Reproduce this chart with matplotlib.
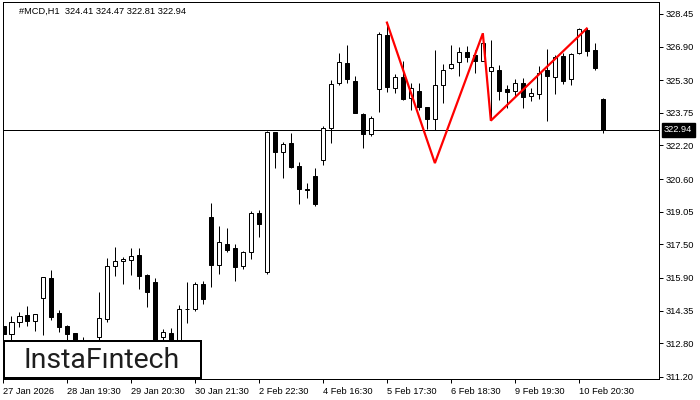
import matplotlib
matplotlib.use('Agg')
import matplotlib.pyplot as plt
import matplotlib.transforms as mtransforms
from matplotlib.patches import Rectangle


#################### Data

header_text = '#MCD,H1  324.41 324.47 322.81 322.94'
last_price = 322.94

opens = [313.61, 313.22, 313.79, 314.12, 313.84, 314.93, 315.88, 314.23, 313.61, 313.27,
         312.57, 312.85, 313.08, 313.93, 316.45, 316.69, 316.77, 316.99, 316.04, 315.69,
         313.11, 313.27, 312.66, 314.42, 314.41, 315.60, 318.78, 316.50, 317.50, 317.31,
         316.48, 317.12, 319.00, 316.20, 322.82, 321.87, 322.30, 321.22, 320.11, 320.75,
         321.51, 323.04, 325.15, 326.12, 325.26, 323.68, 322.73, 324.87, 327.45, 324.92,
         325.44, 324.44, 324.79, 324.01, 323.44, 325.06, 325.87, 326.15, 326.63, 326.50,
         326.23, 325.75, 325.79, 324.86, 324.79, 325.16, 324.57, 324.65, 325.79, 325.47,
         326.45, 325.35, 326.58, 327.69, 326.74, 324.41]
highs = [314.22, 314.09, 314.28, 314.57, 314.19, 315.95, 316.28, 314.38, 313.66, 313.29,
         313.11, 312.90, 315.23, 316.83, 317.37, 316.91, 317.31, 317.31, 316.09, 315.88,
         313.46, 313.52, 314.61, 315.71, 315.71, 315.75, 319.45, 318.37, 318.26, 317.51,
         317.18, 319.08, 319.13, 322.89, 322.85, 322.35, 322.78, 321.41, 320.40, 321.13,
         323.12, 325.31, 326.58, 326.98, 325.50, 323.73, 323.60, 327.58, 328.01, 325.58,
         326.22, 325.16, 325.16, 324.04, 326.74, 326.06, 326.98, 326.88, 326.91, 326.74,
         327.53, 327.21, 326.02, 325.05, 325.36, 325.39, 324.92, 325.98, 326.77, 326.50,
         326.58, 326.61, 327.77, 327.77, 327.06, 324.47]
lows = [313.03, 312.95, 313.58, 313.61, 313.39, 313.19, 313.90, 313.34, 312.95, 312.47,
        312.33, 312.30, 312.85, 313.82, 315.99, 315.61, 316.04, 315.37, 314.53, 312.75,
        312.90, 312.55, 312.50, 313.77, 314.34, 314.67, 315.48, 316.09, 317.15, 315.77,
        316.34, 316.80, 317.86, 316.10, 321.11, 320.67, 321.14, 319.40, 319.69, 319.32,
        321.27, 322.33, 325.07, 325.15, 323.74, 322.06, 322.66, 323.80, 324.76, 324.68,
        324.36, 323.89, 323.89, 322.97, 322.93, 324.23, 325.82, 325.50, 326.18, 325.63,
        326.20, 323.40, 324.35, 323.98, 324.52, 323.97, 324.33, 324.41, 323.38, 324.65,
        325.12, 325.07, 326.53, 326.47, 325.79, 322.81]
closes = [313.23, 313.79, 314.08, 313.84, 314.17, 315.93, 314.06, 313.58, 313.23, 312.71,
          312.95, 312.50, 313.98, 316.45, 316.69, 316.80, 316.93, 316.01, 315.25, 312.95,
          313.31, 312.71, 314.42, 314.44, 315.60, 314.91, 316.50, 317.59, 317.23, 316.43,
          317.12, 318.97, 318.45, 322.82, 321.87, 322.27, 321.19, 320.11, 320.09, 319.42,
          323.04, 325.12, 326.15, 325.37, 323.76, 322.73, 323.49, 327.48, 324.99, 325.44,
          324.41, 324.92, 324.01, 323.44, 325.06, 325.77, 326.06, 326.63, 326.42, 326.23,
          327.09, 325.91, 324.80, 324.72, 325.16, 324.52, 324.68, 325.63, 325.52, 326.42,
          325.28, 326.53, 327.72, 326.70, 325.87, 322.94]

time_tick_idx = [0, 8, 16, 24, 32, 40, 48, 56, 64, 72]
time_tick_labels = ['27 Jan 2026', '28 Jan 19:30', '29 Jan 20:30', '30 Jan 21:30',
                    '2 Feb 22:30', '4 Feb 16:30', '5 Feb 17:30', '6 Feb 18:30',
                    '9 Feb 19:30', '10 Feb 20:30']

price_ticks = [311.20, 312.80, 314.35, 315.90, 317.50, 319.05,
               320.60, 322.20, 323.75, 325.30, 326.90, 328.45]

# triple top drawing
pattern_idx = [48, 54, 60, 61, 73]
pattern_price = [328.04, 321.36, 327.53, 323.38, 327.76]


#################### Plot parameters

plt.rcParams['font.family'] = ['Liberation Sans', 'DejaVu Sans']
tick_size = 6.7
px = 0.72  # one pixel in points at dpi 100

W, H = 700, 400
fig = plt.figure(figsize=(W / 100, H / 100), dpi=100)
ax = fig.add_axes((3 / W, 21 / H, 656 / W, 377 / H))


#################### Candles

n = len(opens)
body_w = 0.55
for i in range(n):
    o, h, l, c = opens[i], highs[i], lows[i], closes[i]
    ax.vlines(i, l, h, color='black', linewidth=px, zorder=2)
    bull = c >= o
    ax.bar(i, max(abs(c - o), 0.005), bottom=min(o, c), width=body_w,
           facecolor='white' if bull else 'black', edgecolor='black',
           linewidth=px, zorder=3)

# pattern lines
ax.plot(pattern_idx, pattern_price, color='#ff0000', linewidth=1.6, zorder=4,
        solid_joinstyle='miter')

# current price line
ax.axhline(last_price, color='black', linewidth=px, zorder=1)


#################### Axes

ax.set_xlim(-0.04, 82.04)
ax.set_ylim(311.094, 329.02)

for s in ax.spines.values():
    s.set_linewidth(px)
    s.set_color('black')

ax.yaxis.tick_right()
ax.set_yticks(price_ticks)
ax.set_yticklabels([f'{p:.2f}' for p in price_ticks])
ax.set_xticks(time_tick_idx)
ax.set_xticklabels(time_tick_labels, ha='left')
ax.tick_params(axis='both', length=3, width=px, color='black',
               labelsize=tick_size, pad=2)
ax.tick_params(axis='x', pad=3)

# header
ax.text(16 / 656, 1 - 9 / 377, header_text, transform=ax.transAxes,
        fontsize=tick_size, ha='left', va='center', color='black')

# price label on the scale
trans = mtransforms.blended_transform_factory(ax.transAxes, ax.transData)
ax.text(1 + 5 / 656, last_price, f'{last_price:.2f}', transform=trans,
        ha='left', va='center', fontsize=tick_size, color='white', clip_on=False,
        bbox=dict(boxstyle='square,pad=0.25', facecolor='black', edgecolor='black'))

# logo
fig.patches.append(Rectangle((3.5 / W, (H - 378) / H), 197.5 / W, 37 / H,
                             transform=fig.transFigure, facecolor='white',
                             edgecolor='black', linewidth=2 * px, zorder=10))
fig.text(101.5 / W, (H - 368) / H, 'InstaF\u0131ntech', fontsize=20.5, family='Roboto',
         color='#1e1e1e', ha='center', va='baseline', zorder=11)


#################### Save

fig.savefig('out.png', dpi=100)
